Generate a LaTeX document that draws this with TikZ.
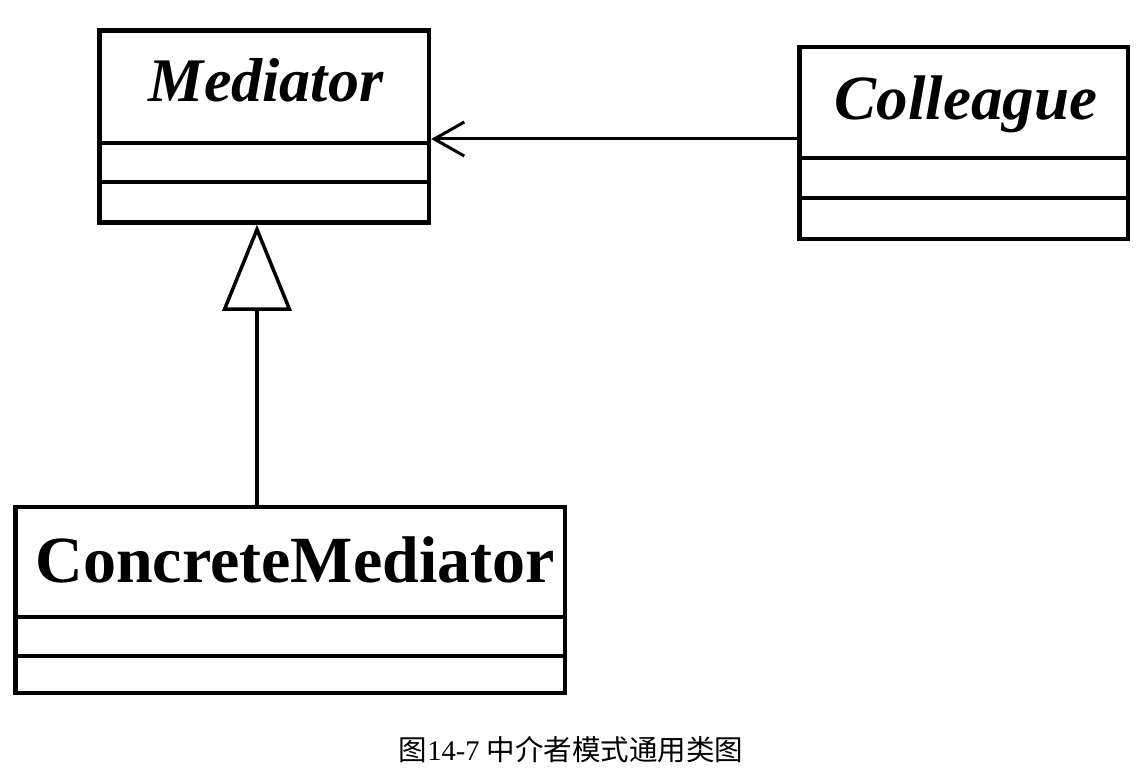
\documentclass[tikz,border=0pt]{standalone}
\usepackage{fontspec}
\setmainfont{Liberation Serif}
\newfontfamily\cjk{Noto Sans CJK SC}
\usetikzlibrary{arrows.meta}
\begin{document}
\begin{tikzpicture}[x=1pt,y=-1pt,
  classbox/.style={draw=black,line width=4.5pt,inner sep=0pt,rectangle,fill=none},
  sepline/.style={line width=4.5pt},
  titletext/.style={inner sep=0pt,anchor=base,font=\fontsize{62}{70}\selectfont\bfseries},
  assoc/.style={line width=3pt,-{Straight Barb[length=30pt,width=34pt,line width=3pt]}},
  inherit/.style={line width=3.5pt,-{Triangle[open,length=86pt,width=69pt,line width=3.5pt,fill=white]}}]
\useasboundingbox (0,0) rectangle (1140,778);
% Mediator
\node[classbox,minimum width=329.5pt,minimum height=192pt] (med) at (264.25,126.5) {};
\node[titletext,font=\fontsize{62}{70}\selectfont\bfseries\itshape] (medt) at (266,102) {Mediator};
\draw[sepline] (med.west |- 0,143) -- (med.east |- 0,143);
\draw[sepline] (med.west |- 0,182) -- (med.east |- 0,182);
% Colleague
\node[classbox,minimum width=328.5pt,minimum height=192pt] (col) at (963.75,143) {};
\node[titletext,font=\fontsize{63}{70}\selectfont\bfseries\itshape] (colt) at (966,120) {Colleague};
\draw[sepline] (col.west |- 0,158) -- (col.east |- 0,158);
\draw[sepline] (col.west |- 0,198) -- (col.east |- 0,198);
% ConcreteMediator
\node[classbox,minimum width=549.5pt,minimum height=186pt] (con) at (290.25,600) {};
\node[titletext,font=\fontsize{66}{74}\selectfont\bfseries] (cont) at (295,582) {ConcreteMediator};
\draw[sepline] (con.west |- 0,617) -- (con.east |- 0,617);
\draw[sepline] (con.west |- 0,656) -- (con.east |- 0,656);
% connectors
\draw[assoc] ([yshift=4pt]col.west) -- ([yshift=-12.5pt]med.east);
\draw[inherit] ([xshift=-33.25pt]con.north) -- ([xshift=-7.25pt]med.south);
% caption
\node[inner sep=0pt,anchor=base,font=\fontsize{28.5}{32}\selectfont] (cap) at (571,760) {{\cjk 图}14-7 {\cjk 中介者模式通用类图}};
\end{tikzpicture}
\end{document}
